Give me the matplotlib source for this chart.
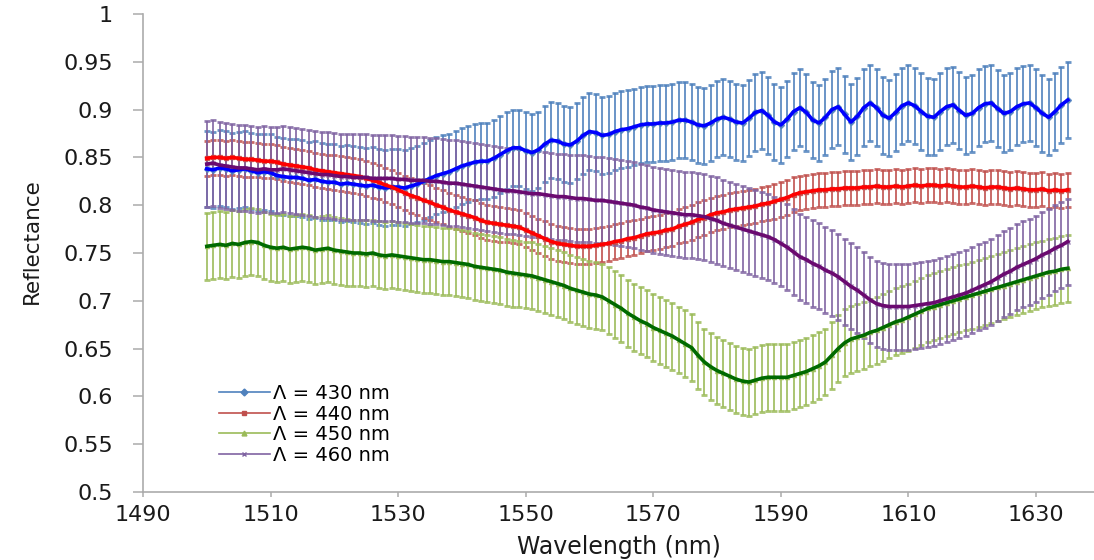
import numpy as np
import matplotlib
matplotlib.use("Agg")
import matplotlib.pyplot as plt
from matplotlib.lines import Line2D

plt.rcParams['font.family'] = ['DejaVu Sans']

# Wavelength grid (nm), one sample per nm
wavelength = np.arange(1500, 1636)

# Mean reflectance per grating period
refl_430 = [
    0.838, 0.837, 0.839, 0.838, 0.836, 0.837, 0.838, 0.836, 0.834, 0.835,
    0.834, 0.831, 0.830, 0.829, 0.829, 0.828, 0.826, 0.827, 0.825, 0.824,
    0.824, 0.822, 0.823, 0.822, 0.821, 0.820, 0.821, 0.819, 0.818, 0.819,
    0.819, 0.818, 0.820, 0.822, 0.825, 0.828, 0.831, 0.833, 0.835, 0.838,
    0.841, 0.843, 0.845, 0.846, 0.846, 0.849, 0.853, 0.857, 0.860, 0.860,
    0.857, 0.855, 0.858, 0.864, 0.868, 0.867, 0.864, 0.863, 0.867, 0.873,
    0.877, 0.876, 0.873, 0.874, 0.877, 0.879, 0.880, 0.882, 0.884, 0.885,
    0.885, 0.886, 0.886, 0.887, 0.889, 0.889, 0.887, 0.884, 0.883, 0.886,
    0.890, 0.892, 0.890, 0.887, 0.886, 0.891, 0.897, 0.899, 0.894, 0.887,
    0.884, 0.890, 0.898, 0.902, 0.897, 0.889, 0.886, 0.892, 0.900, 0.903,
    0.895, 0.887, 0.893, 0.902, 0.907, 0.902, 0.894, 0.891, 0.897, 0.904,
    0.907, 0.904, 0.898, 0.893, 0.892, 0.898, 0.903, 0.905, 0.899, 0.894,
    0.896, 0.902, 0.906, 0.907, 0.901, 0.896, 0.898, 0.903, 0.906, 0.907,
    0.902, 0.896, 0.892, 0.898, 0.905, 0.910,
]
refl_440 = [
    0.849, 0.850, 0.850, 0.849, 0.850, 0.849, 0.848, 0.848, 0.847, 0.846,
    0.846, 0.845, 0.843, 0.842, 0.841, 0.840, 0.839, 0.837, 0.836, 0.835,
    0.834, 0.833, 0.832, 0.831, 0.830, 0.828, 0.826, 0.824, 0.821, 0.819,
    0.816, 0.813, 0.810, 0.808, 0.805, 0.803, 0.800, 0.798, 0.795, 0.793,
    0.791, 0.789, 0.787, 0.784, 0.782, 0.781, 0.780, 0.779, 0.778, 0.777,
    0.774, 0.771, 0.768, 0.765, 0.762, 0.760, 0.759, 0.758, 0.757, 0.757,
    0.757, 0.758, 0.759, 0.760, 0.762, 0.763, 0.765, 0.766, 0.768, 0.770,
    0.771, 0.772, 0.774, 0.775, 0.778, 0.780, 0.782, 0.785, 0.787, 0.790,
    0.792, 0.793, 0.795, 0.796, 0.797, 0.798, 0.799, 0.801, 0.802, 0.804,
    0.806, 0.808, 0.811, 0.813, 0.814, 0.815, 0.816, 0.816, 0.817, 0.817,
    0.818, 0.818, 0.818, 0.819, 0.819, 0.820, 0.819, 0.819, 0.820, 0.819,
    0.820, 0.821, 0.820, 0.821, 0.821, 0.820, 0.821, 0.820, 0.819, 0.819,
    0.820, 0.819, 0.818, 0.819, 0.819, 0.818, 0.817, 0.818, 0.817, 0.816,
    0.816, 0.817, 0.815, 0.816, 0.815, 0.816,
]
refl_450 = [
    0.757, 0.758, 0.759, 0.758, 0.760, 0.759, 0.761, 0.762, 0.761, 0.758,
    0.756, 0.755, 0.756, 0.754, 0.755, 0.756, 0.755, 0.753, 0.754, 0.755,
    0.753, 0.752, 0.751, 0.750, 0.750, 0.749, 0.750, 0.748, 0.747, 0.748,
    0.747, 0.746, 0.745, 0.744, 0.743, 0.743, 0.742, 0.741, 0.741, 0.740,
    0.739, 0.738, 0.736, 0.735, 0.734, 0.733, 0.732, 0.730, 0.729, 0.728,
    0.727, 0.726, 0.724, 0.722, 0.720, 0.718, 0.716, 0.713, 0.711, 0.709,
    0.707, 0.706, 0.704, 0.700, 0.696, 0.692, 0.687, 0.683, 0.679, 0.676,
    0.672, 0.669, 0.666, 0.663, 0.659, 0.655, 0.651, 0.643, 0.636, 0.631,
    0.627, 0.624, 0.621, 0.618, 0.616, 0.615, 0.617, 0.619, 0.620, 0.620,
    0.620, 0.620, 0.622, 0.624, 0.626, 0.629, 0.632, 0.636, 0.643, 0.650,
    0.656, 0.660, 0.662, 0.664, 0.667, 0.669, 0.672, 0.675, 0.678, 0.680,
    0.683, 0.686, 0.689, 0.692, 0.694, 0.696, 0.698, 0.700, 0.702, 0.704,
    0.706, 0.708, 0.710, 0.712, 0.714, 0.716, 0.718, 0.720, 0.722, 0.724,
    0.726, 0.728, 0.730, 0.731, 0.733, 0.734,
]
refl_460 = [
    0.843, 0.844, 0.842, 0.841, 0.840, 0.839, 0.839, 0.838, 0.837, 0.838,
    0.837, 0.837, 0.838, 0.837, 0.836, 0.835, 0.834, 0.833, 0.832, 0.832,
    0.831, 0.830, 0.830, 0.829, 0.829, 0.829, 0.828, 0.828, 0.828, 0.828,
    0.827, 0.827, 0.826, 0.826, 0.826, 0.825, 0.825, 0.824, 0.823, 0.823,
    0.822, 0.821, 0.820, 0.819, 0.818, 0.817, 0.816, 0.815, 0.815, 0.814,
    0.813, 0.812, 0.812, 0.811, 0.810, 0.809, 0.809, 0.808, 0.807, 0.807,
    0.806, 0.805, 0.805, 0.804, 0.803, 0.802, 0.801, 0.800, 0.798, 0.797,
    0.795, 0.794, 0.793, 0.792, 0.791, 0.790, 0.790, 0.789, 0.788, 0.786,
    0.784, 0.781, 0.779, 0.777, 0.775, 0.773, 0.771, 0.769, 0.767, 0.764,
    0.760, 0.756, 0.751, 0.746, 0.743, 0.739, 0.736, 0.732, 0.729, 0.725,
    0.720, 0.715, 0.711, 0.706, 0.701, 0.697, 0.695, 0.694, 0.694, 0.694,
    0.694, 0.695, 0.696, 0.697, 0.698, 0.700, 0.702, 0.704, 0.706, 0.708,
    0.711, 0.714, 0.717, 0.720, 0.724, 0.728, 0.731, 0.735, 0.738, 0.741,
    0.744, 0.748, 0.751, 0.755, 0.758, 0.762,
]

# Standard deviation (error bar half-height) per period
errors = [0.040, 0.018, 0.035, 0.045]

labels = ["Λ = 430 nm", "Λ = 440 nm", "Λ = 450 nm", "Λ = 460 nm"]
series = [refl_430, refl_440, refl_450, refl_460]
light_colors = ["#4F81BD", "#C0504D", "#9BBB59", "#8064A2"]
dark_colors = ["#0000FF", "#FF0000", "#006A00", "#6B0A70"]
markers = ["D", "s", "^", "x"]

x_ticks = [1490, 1510, 1530, 1550, 1570, 1590, 1610, 1630]
y_ticks = [0.5, 0.55, 0.6, 0.65, 0.7, 0.75, 0.8, 0.85, 0.9, 0.95, 1.0]
y_tick_labels = ["0.5", "0.55", "0.6", "0.65", "0.7", "0.75", "0.8",
                 "0.85", "0.9", "0.95", "1"]

W, H = 1094, 560
fig = plt.figure(figsize=(W / 100, H / 100), dpi=100)
ax = fig.add_axes([143 / W, 68 / H, (W - 143) / W, 478 / H])

# measured spectra with error bars
for vals, err, c, m in zip(series, errors, light_colors, markers):
    ax.errorbar(wavelength, vals, yerr=err, fmt=m, color=c, ecolor=c,
                markersize=3, elinewidth=1.4, capsize=2.5, capthick=2.0,
                alpha=0.85, zorder=2)

# averaged curves on top
for vals, c in zip(series, dark_colors):
    ax.plot(wavelength, vals, color=c, linewidth=2.6, zorder=4,
            solid_joinstyle="round")

ax.set_xlim(1490, 1639.1)
ax.set_ylim(0.5, 1.0)
ax.set_xticks(x_ticks)
ax.set_yticks(y_ticks)
ax.set_yticklabels(y_tick_labels)

for side in ("top", "right"):
    ax.spines[side].set_visible(False)
for side in ("left", "bottom"):
    ax.spines[side].set_color("#ABABAB")
    ax.spines[side].set_linewidth(1.2)

ax.tick_params(axis="y", length=7.5, width=1.1, color="#ABABAB",
               pad=14, labelsize=16, labelcolor="#1A1A1A")
ax.tick_params(axis="x", length=3.5, width=1.1, color="#ABABAB",
               pad=6, labelsize=16, labelcolor="#1A1A1A")

ax.set_xlabel("Wavelength (nm)", fontsize=17, color="#1A1A1A", labelpad=7)
ax.set_ylabel("Reflectance", fontsize=15.5, color="#1A1A1A")
ax.yaxis.set_label_coords(-0.106, 0.525)

handles = [Line2D([0], [0], color=c, marker=m, markersize=3.5, linewidth=1.2)
           for c, m in zip(light_colors, markers)]
ax.legend(handles, labels, loc="upper left", bbox_to_anchor=(0.08, 0.226),
          frameon=False, fontsize=14, handlelength=2.6, handletextpad=0.15,
          labelspacing=0.08, borderpad=0, borderaxespad=0, markerscale=1)

fig.savefig("out.png", dpi=100)
